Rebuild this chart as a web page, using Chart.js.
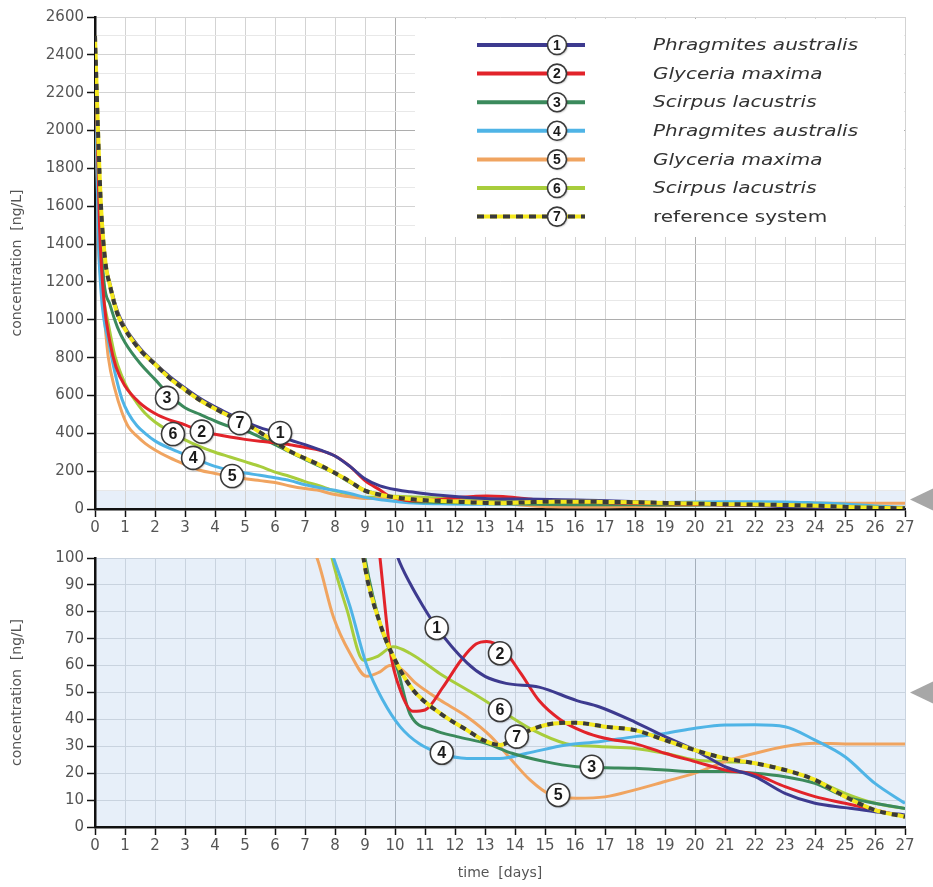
<!DOCTYPE html>
<html><head><meta charset="utf-8">
<script src="https://cdn.jsdelivr.net/npm/chart.js@4/dist/chart.umd.min.js"></script>
<style>
html,body{margin:0;padding:0;background:#fff;}
#wrap{position:relative;width:933px;height:887px;overflow:hidden;}
canvas{position:absolute;left:0;}
#c1{top:0}
#c2{top:545px}
</style></head><body>
<div id="wrap"><canvas id="c1" width="933" height="545"></canvas><canvas id="c2" width="933" height="342"></canvas></div>
<script>
// ---------- DATA ----------
const seriesNumbers = ['1','2','3','4','5','6','7'];
const seriesNames = ['Phragmites australis','Glyceria maxima','Scirpus lacustris','Phragmites australis','Glyceria maxima','Scirpus lacustris','reference system'];
const yAxisTitle = 'concentration  [ng/L]';
const xAxisTitle = 'time  [days]';
const thresholdValue = 50; // ng/L, marked by the grey arrows

// [day, ng/L]
const s1 = [[0,2500],[0.1,1950],[0.2,1580],[0.35,1300],[0.5,1190],[0.75,1045],[1,960],[1.5,850],[2,770],[2.5,700],[3,640],[3.5,585],[4,540],[4.5,500],[5,462],[5.5,430],[6,405],[6.5,365],[7,340],[7.5,312],[8,280],[8.5,225],[9,160],[9.5,122],[10.1,100],[10.5,90.6],[10.94,82],[11.4,74],[12.4,61],[13,56],[13.7,53.4],[14.8,52],[16.06,47],[16.8,44.7],[18,39],[19,33.6],[20,28.6],[21,22.4],[22,18.7],[23,12.5],[24,8.8],[25,7.2],[26,5.7],[27,4.5]];
const s2 = [[0,2500],[0.15,1500],[0.3,1100],[0.5,880],[0.7,750],[1,650],[1.5,560],[2,505],[2.5,470],[3,445],[3.5,412],[4,395],[4.5,380],[5,368],[5.5,358],[6,350],[6.5,340],[7,325],[7.5,310],[8,280],[8.5,225],[9,150],[9.5,100],[9.83,66],[10.17,51],[10.6,43],[11,43.5],[11.6,52],[12.2,62],[12.7,68],[13.06,69],[13.6,66],[14.2,57],[14.8,47],[15.5,40],[16.3,35.4],[17,33],[18,31],[19,27.4],[20,24.3],[21,21.2],[22,19.5],[23,15],[24,11.3],[25,8.8],[26,6.3],[27,3.8]];
const s3 = [[0,2500],[0.15,1600],[0.3,1200],[0.5,1080],[0.75,960],[1,880],[1.5,770],[2,685],[2.5,600],[3,535],[3.5,500],[4,465],[4.5,435],[5,415],[5.5,380],[6,340],[6.5,300],[7,262],[7.5,225],[8,188],[8.5,140],[9,100],[9.6,72],[10.06,59.6],[10.5,42],[11.3,36],[12.06,33.6],[13.06,31],[13.9,27.4],[15,24.3],[16.06,22.4],[17,22],[18,21.8],[19,21.2],[20,20.6],[21,20.6],[22,20],[23,18.7],[24,16.2],[25,11.3],[26,8.8],[27,6.9]];
const s4 = [[0,2500],[0.1,1500],[0.2,1150],[0.3,1000],[0.44,893],[0.67,717],[0.9,580],[1.11,506],[1.4,440],[1.67,400],[2,360],[2.5,320],[3,288],[3.5,255],[4,225],[4.5,205],[5,190],[5.5,178],[6,165],[6.5,150],[7,128],[7.5,112],[7.95,100],[8.5,82],[9.06,60],[9.6,47],[10.17,37.3],[10.8,31],[11.5,27.4],[12.4,25.5],[13.5,25.5],[14.4,27.4],[15.7,30.5],[16.8,31.7],[18,33.6],[19,34.8],[20,36.7],[21,37.9],[22,38],[23,37.3],[24,32.3],[25,26.1],[26,16.2],[27,8.8]];
const s5 = [[0,2500],[0.1,1500],[0.2,1200],[0.28,1069],[0.44,805],[0.67,629],[0.9,510],[1.11,435],[1.4,385],[1.67,347],[2,312],[2.5,270],[3,236],[3.5,205],[4,188],[4.5,172],[5,160],[5.5,150],[6,140],[6.5,122],[7,108],[7.4,100],[7.95,78],[8.5,64.6],[9.06,56],[9.5,57.7],[9.83,60],[10.17,59],[10.7,53.4],[11.5,47.2],[12.4,41],[13.2,33.6],[13.8,26],[14.5,17.5],[15.2,11.9],[16.06,10.7],[17,11.2],[18,13.8],[19,16.9],[20,20],[21,24.3],[22,27.4],[23,29.9],[24,31.1],[25,30.9],[26,30.9],[27,30.9]];
const s6 = [[0,2500],[0.1,1600],[0.2,1250],[0.3,1100],[0.44,981],[0.67,805],[0.9,700],[1.11,629],[1.4,560],[1.67,506],[2,460],[2.5,410],[3,365],[3.5,330],[4,300],[4.5,275],[5,250],[5.5,225],[6,195],[6.5,172],[7,145],[7.5,122],[7.9,100],[8.4,80.7],[8.95,62],[9.4,63.3],[9.94,67],[10.5,64.6],[11.5,57],[12.6,49.7],[13.5,43.5],[14.6,36],[15.7,31],[16.8,29.9],[18,29.2],[19,27.4],[20,24.9],[21,24.3],[22,23.7],[23,21.2],[24,17.5],[25,12.5],[26,8.8],[27,6.9]];
const s7 = [[0,2500],[0.1,2000],[0.2,1600],[0.35,1300],[0.5,1180],[0.75,1030],[1,950],[1.5,840],[2,765],[2.5,690],[3,630],[3.5,575],[4,530],[4.5,490],[5,455],[5.5,405],[6,355],[6.5,305],[7,268],[7.5,232],[8,190],[8.5,145],[8.95,100],[9.5,75.7],[10.06,60.8],[10.6,51],[11.5,42.3],[12.4,36],[13,32],[13.5,30.5],[14,33],[14.6,36.5],[15.3,38.5],[16,38.8],[17,37.3],[18,36],[19,32.3],[20,28.6],[21,25.5],[22,23.7],[23,21.2],[24,17.5],[25,11.3],[26,6.3],[27,3.8]];

// circled number labels, [day, ng/L] anchors
const badgesTop = [[6.17,402],[3.56,409],[2.4,587],[3.27,270],[4.57,174],[2.6,396],[4.83,454]];
const badgesBottom = [[11.39,74],[13.5,64.6],[16.56,22.4],[11.56,27.6],[15.44,11.9],[13.5,43.5],[14.06,33.6]];

// ---------- STYLE ----------
const colors = ['#3d3a8f','#e2232a','#3b8a5c','#4fb4e6','#f0a460','#a8cd3c'];
const dashDark = '#3a3a3a', dashYellow = '#f4e81e';
const FONT = '"DejaVu Sans", "Liberation Sans", Arial, sans-serif';
const toPts = a => a.map(p => ({x:p[0], y:p[1]}));

function makeDatasets(){
  const series = [s1,s2,s3,s4,s5,s6];
  const base = {pointRadius:0, pointHoverRadius:0, fill:false, tension:0.4, cubicInterpolationMode:'monotone'};
  const ds = [];
  ds.push(Object.assign({}, base, {data:toPts(s7), borderColor:dashDark, borderWidth:4, borderDash:[6,6], order:0}));
  ds.push(Object.assign({}, base, {data:toPts(s7), borderColor:dashYellow, borderWidth:4, order:1}));
  series.forEach((s,i)=> ds.push(Object.assign({}, base, {data:toPts(s), borderColor:colors[i], borderWidth:3, order:2+i})));
  return ds;
}

function drawBadge(ctx,x,y,r,txt,fs){
  ctx.save();
  ctx.shadowColor='rgba(0,0,0,0.35)'; ctx.shadowOffsetX=1; ctx.shadowOffsetY=1; ctx.shadowBlur=2;
  ctx.beginPath(); ctx.arc(x,y,r,0,Math.PI*2); ctx.fillStyle='#fff'; ctx.fill();
  ctx.shadowColor='transparent';
  ctx.lineWidth=1.6; ctx.strokeStyle='#3a3a3a'; ctx.stroke();
  ctx.fillStyle='#1a1a1a'; ctx.font='bold '+fs+'px "Liberation Sans", Arial, sans-serif';
  ctx.textAlign='center'; ctx.textBaseline='middle'; ctx.fillText(txt,x,y+1);
  ctx.restore();
}

function decoPlugin(opts){
  return {
    id:'deco',
    beforeDraw(chart){
      const {ctx, chartArea:ca, scales:{y}} = chart;
      ctx.save();
      ctx.fillStyle='#e7eff9';
      const yTop = Math.max(ca.top, y.getPixelForValue(opts.bandMax));
      ctx.fillRect(ca.left, yTop, ca.right-ca.left, ca.bottom-yTop);
      ctx.restore();
    },
    afterDatasetsDraw(chart){
      const {ctx, scales:{x,y}} = chart;
      opts.badges.forEach((b,i)=> drawBadge(ctx, x.getPixelForValue(b[0]), y.getPixelForValue(b[1]), 11.5, seriesNumbers[i], 16));
    },
    afterDraw(chart){
      const {ctx, chartArea:ca, scales:{y}} = chart;
      // threshold arrow
      const ay = y.getPixelForValue(thresholdValue);
      ctx.save();
      ctx.fillStyle='#a7a7a7';
      ctx.beginPath(); ctx.moveTo(ca.right+5, ay); ctx.lineTo(chart.width, ay-11); ctx.lineTo(chart.width, ay+11); ctx.closePath(); ctx.fill();
      ctx.restore();
      if(!opts.legend) return;
      // legend box
      ctx.save();
      const lx = ca.left+320, ly = ca.top+2, lw = ca.right-lx-1, lh = 218;
      ctx.fillStyle='#fff'; ctx.fillRect(lx,ly,lw,lh);
      for(let i=0;i<7;i++){
        const ry = ca.top+28 + i*28.6;
        const x0 = ca.left+382, x1 = ca.left+490, cx = ca.left+462;
        if(i<6){
          ctx.strokeStyle=colors[i]; ctx.lineWidth=4; ctx.setLineDash([]);
          ctx.beginPath(); ctx.moveTo(x0,ry); ctx.lineTo(x1,ry); ctx.stroke();
        } else {
          ctx.strokeStyle=dashYellow; ctx.lineWidth=4; ctx.setLineDash([]);
          ctx.beginPath(); ctx.moveTo(x0,ry); ctx.lineTo(x1,ry); ctx.stroke();
          ctx.strokeStyle=dashDark; ctx.setLineDash([7,6]);
          ctx.beginPath(); ctx.moveTo(x0,ry); ctx.lineTo(x1,ry); ctx.stroke();
          ctx.setLineDash([]);
        }
        drawBadge(ctx,cx,ry,9.5,seriesNumbers[i],14);
        ctx.save();
        ctx.translate(ca.left+558, ry+1);
        ctx.scale(1.25,1);
        ctx.fillStyle='#333';
        ctx.font=(i<6?'italic ':'')+'16px '+FONT;
        ctx.textAlign='left'; ctx.textBaseline='middle';
        ctx.fillText(seriesNames[i], 0, 0);
        ctx.restore();
      }
      ctx.restore();
    }
  };
}

function gridColor(light, dark, majorEvery){
  return c => {
    const v = c.tick.value;
    if (v === 0) return 'rgba(0,0,0,0)';
    return (v % majorEvery === 0) ? dark : light;
  };
}

function xScale(height, title, gl, gd){
  return {
    type:'linear', min:0, max:27,
    ticks:{stepSize:1, autoSkip:false, maxRotation:0, color:'#555', font:{family:FONT, size:15}, padding:2},
    grid:{color:gridColor(gl,gd,10), lineWidth:1, tickColor:'#111', tickLength:8, tickWidth:1.5},
    border:{color:'#111', width:2.5},
    title: title ? {display:true, text:xAxisTitle, color:'#555', font:{family:FONT, size:14}, padding:{top:0,bottom:5}} : {display:false},
    afterFit(s){ s.height = height; }
  };
}
function yScale(max, step, labelEvery, majorEvery, gl, gd, minor){
  return {
    type:'linear', min:0, max:max,
    ticks:{stepSize:step, autoSkip:false, color:'#555', font:{family:FONT, size:15}, padding:3,
      callback: v => (v % labelEvery === 0) ? String(v) : ''},
    grid:{
      color: c => { const v=c.tick.value; if(v===0) return 'rgba(0,0,0,0)'; if(v%majorEvery===0) return gd; if(v%labelEvery!==0) return minor; return gl; },
      lineWidth:1,
      tickColor: c => (c.tick.value % labelEvery === 0) ? '#111' : 'rgba(0,0,0,0)',
      tickLength:8, tickWidth:1.5},
    border:{color:'#111', width:2.5},
    title:{display:true, text:yAxisTitle, color:'#555', font:{family:FONT, size:14}, padding:{top:9,bottom:0}},
    afterFit(s){ s.width = 95; }
  };
}

const common = {responsive:false, animation:false, devicePixelRatio:1,
  plugins:{legend:{display:false}, tooltip:{enabled:false}}, events:[]};

new Chart(document.getElementById('c1'), {
  type:'line',
  data:{datasets:makeDatasets()},
  options:Object.assign({}, common, {
    layout:{padding:{top:17,right:28,left:0,bottom:0}},
    scales:{ x:xScale(36,false,'#d3d3d3','#adadad'), y:yScale(2600,100,200,1000,'#d3d3d3','#adadad','#e8e8e8') }
  }),
  plugins:[decoPlugin({bandMax:100, badges:badgesTop, legend:true})]
});

new Chart(document.getElementById('c2'), {
  type:'line',
  data:{datasets:makeDatasets()},
  options:Object.assign({}, common, {
    layout:{padding:{top:13,right:28,left:0,bottom:0}},
    scales:{ x:xScale(60,true,'#c9d3df','#a5afbb'), y:yScale(100,10,10,50,'#c9d3df','#c9d3df','#c9d3df') }
  }),
  plugins:[decoPlugin({bandMax:100, badges:badgesBottom, legend:false})]
});
</script>
</body></html>
